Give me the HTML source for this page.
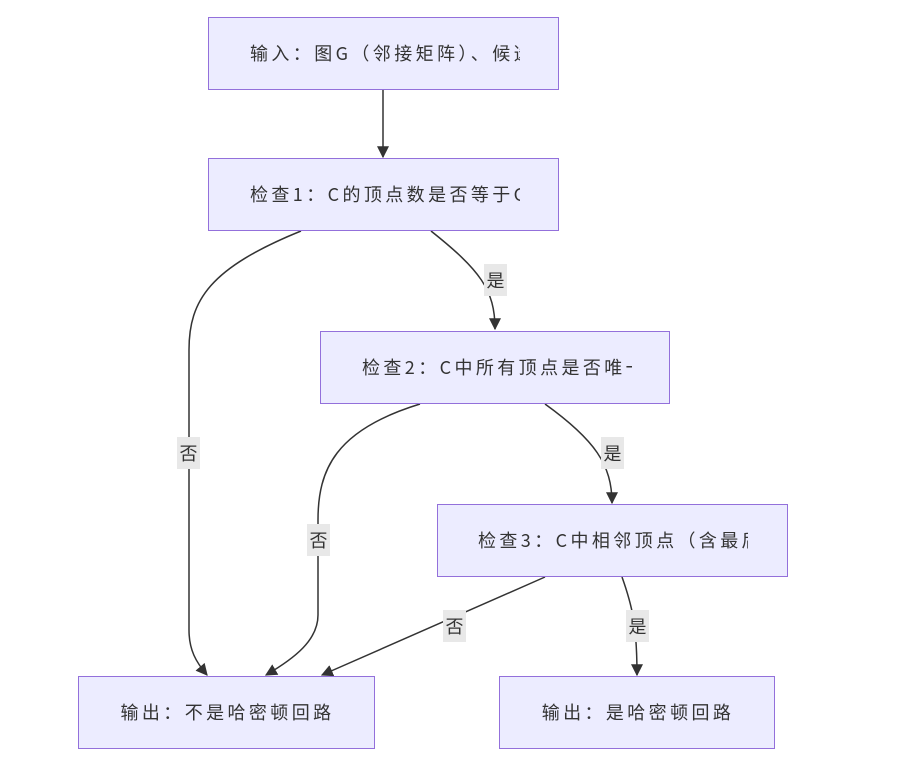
<!DOCTYPE html>
<html><head><meta charset="utf-8"><style>
body{margin:0;background:#fff;width:898px;height:763px;position:relative;overflow:hidden;font-family:"Liberation Sans","Noto Sans CJK SC",sans-serif;}
.n{position:absolute;box-sizing:border-box;background:#ECECFF;border:1.5px solid #9370DB;height:73px;}
.t{position:absolute;top:0;height:70px;line-height:70px;font-size:18px;letter-spacing:3.4px;color:#333;white-space:nowrap;overflow:hidden;font-family:"Noto Sans CJK SC","Liberation Sans",sans-serif;}
.l{position:absolute;background:#e8e8e8;color:#333;font-size:18px;width:23px;height:32px;line-height:32px;text-align:center;font-family:"Noto Sans CJK SC",sans-serif;}
svg{position:absolute;left:0;top:0;}
</style></head><body>
<svg width="898" height="763">
<defs><marker id="a" viewBox="0 0 10 10" refX="9" refY="5" markerWidth="8" markerHeight="8" orient="auto"><path d="M0,0L10,5L0,10z" fill="#333"/></marker></defs>
<g fill="none" stroke="#333" stroke-width="1.5" marker-end="url(#a)">
<path d="M383,90L383,157"/>
<path d="M301,231C210,268 189,300 189,350L189,630C189,650 196,662 207,675"/>
<path d="M431,231C480,270 495,290 495,329"/>
<path d="M420,404C335,430 318,470 318,520L318,615C318,640 295,658 266,675"/>
<path d="M545,404C595,440 612,465 612,503"/>
<path d="M545,577L322,675"/>
<path d="M622,577C632,605 637,625 637,675"/>
</g></svg>
<div class="n" style="left:208px;top:17px;width:351px"><div class="t" style="left:41px;width:270px">输入：图G（邻接矩阵）、候选</div></div>
<div class="n" style="left:208px;top:158px;width:351px"><div class="t" style="left:41px;width:270px">检查1：C的顶点数是否等于G</div></div>
<div class="n" style="left:320px;top:331px;width:350px"><div class="t" style="left:41px;width:270px">检查2：C中所有顶点是否唯一</div></div>
<div class="n" style="left:437px;top:504px;width:351px"><div class="t" style="left:40px;width:270px">检查3：C中相邻顶点（含最后</div></div>
<div class="n" style="left:78px;top:676px;width:297px"><div class="t" style="left:0;width:294px;text-align:center;text-indent:3px">输出：不是哈密顿回路</div></div>
<div class="n" style="left:499px;top:676px;width:276px"><div class="t" style="left:0;width:273px;text-align:center;text-indent:3px">输出：是哈密顿回路</div></div>
<div class="l" style="left:484px;top:264px">是</div>
<div class="l" style="left:177px;top:437px">否</div>
<div class="l" style="left:601px;top:437px">是</div>
<div class="l" style="left:307px;top:524px">否</div>
<div class="l" style="left:443px;top:610px">否</div>
<div class="l" style="left:626px;top:610px">是</div>
</body></html>
